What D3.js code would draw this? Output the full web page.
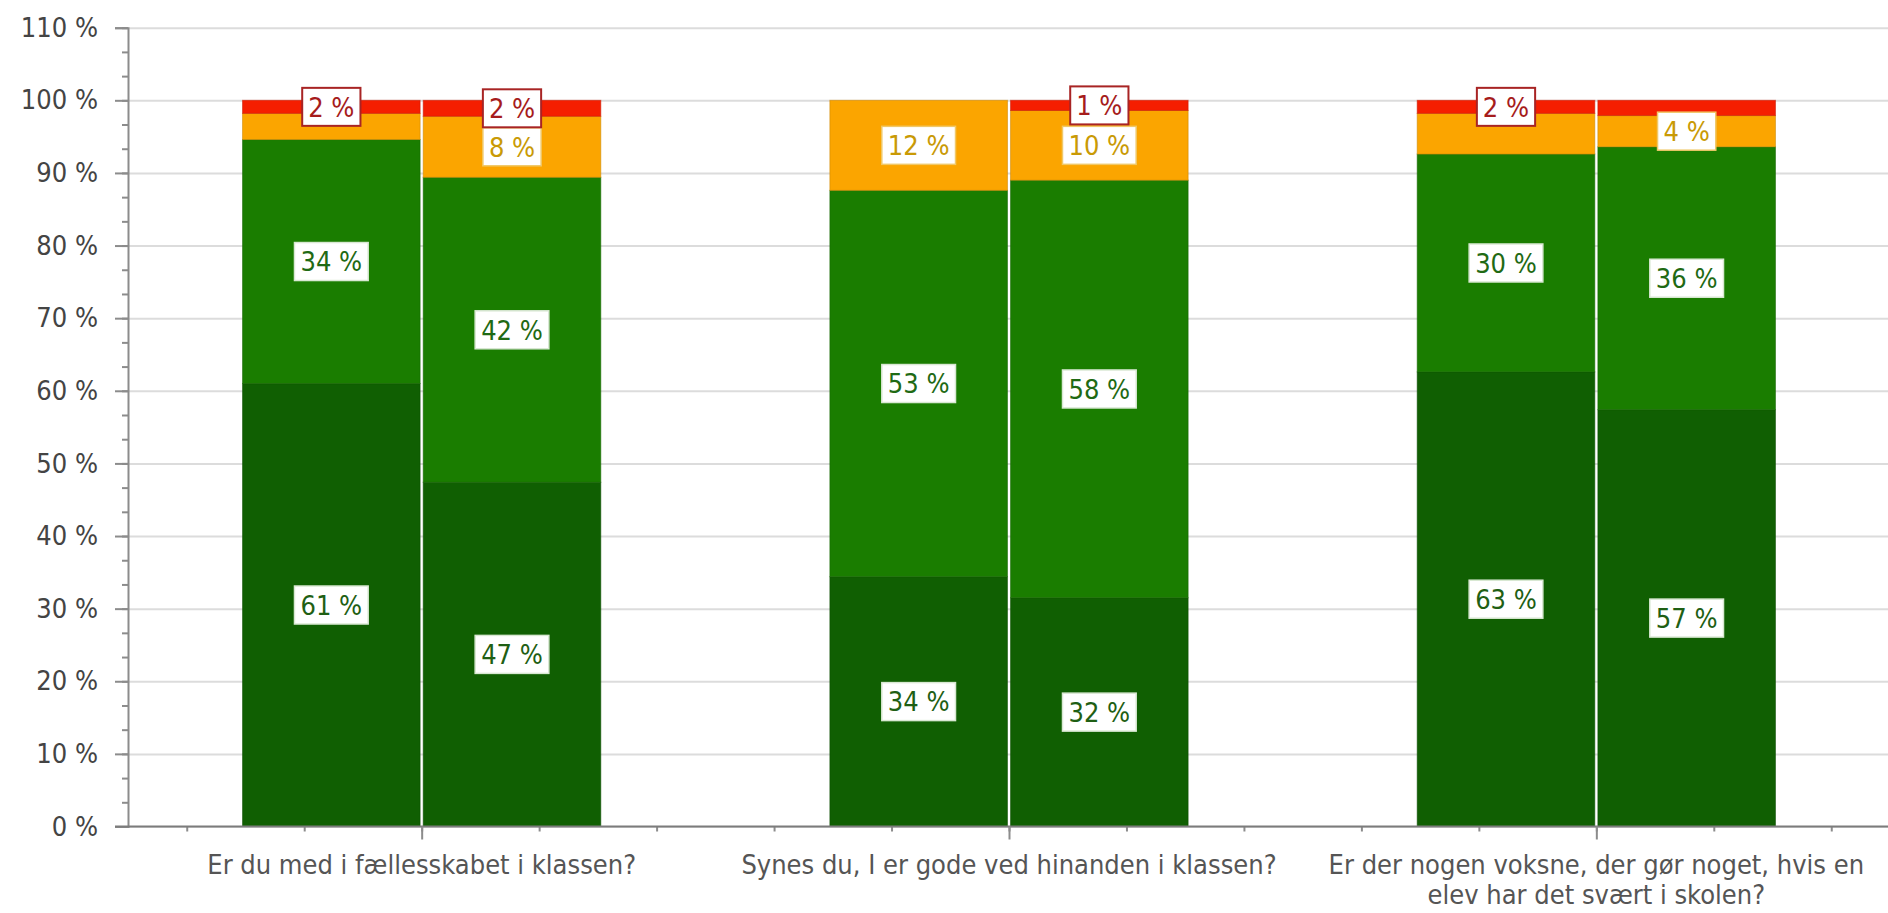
<!DOCTYPE html>
<html><head><meta charset="utf-8">
<script src="https://cdn.jsdelivr.net/npm/d3@7"></script>
<style>
html,body{margin:0;padding:0;background:#fff;overflow:hidden;}
svg{display:block;}
text{font-family:"DejaVu Sans Condensed","DejaVu Sans",sans-serif;font-stretch:condensed;}
</style></head><body>
<svg id="chart" width="1888" height="913"></svg>
<script>
// ---- data ----
const categories = [
  "Er du med i fællesskabet i klassen?",
  "Synes du, I er gode ved hinanden i klassen?",
  "Er der nogen voksne, der gør noget, hvis en elev har det svært i skolen?"
];
const barKeys = ["A", "B"];
const answerKeys = ["darkGreen", "green", "orange", "red"];
// bar A (left bar of each pair)
const darkGreenA = [61.0, 34.4, 62.6];
const greenA     = [33.6, 53.2, 30.0];
const orangeA    = [3.6, 12.4, 5.6];
const redA       = [1.8, 0.0, 1.8];
// bar B (right bar of each pair)
const darkGreenB = [47.4, 31.5, 57.4];
const greenB     = [42.0, 57.5, 36.2];
const orangeB    = [8.4, 9.6, 4.3];
const redB       = [2.2, 1.4, 2.1];
// labels not displayed in the original (category-bar-answer)
const hiddenLabels = ["0-A-orange", "2-A-orange", "2-B-red"];
const yTicks = [0, 10, 20, 30, 40, 50, 60, 70, 80, 90, 100, 110];

const values = {
  A: { darkGreen: darkGreenA, green: greenA, orange: orangeA, red: redA },
  B: { darkGreen: darkGreenB, green: greenB, orange: orangeB, red: redB }
};

// ---- styles ----
const fill = { darkGreen: "#105f02", green: "#1a7d00", orange: "#fba500", red: "#f51e00" };
const labelText = { darkGreen: "#1f5f14", green: "#1f6a14", orange: "#c99a05", red: "#a61c1c" };
const labelBorder = { darkGreen: "#d9e8d3", green: "#d9e8d3", orange: "#f0c868", red: "#a82424" };

const svg = d3.select("#chart");
const mLeft = 128, mRight = 1890, mTop = 27.7, mBottom = 826.5;
const fontSize = 27;

const y = d3.scaleLinear().domain([0, 110]).range([mBottom, mTop]);
const x0 = d3.scaleBand().domain(d3.range(categories.length))
  .range([mLeft, mRight]).paddingInner(0.39).paddingOuter(0.195);
const x1 = d3.scaleBand().domain(barKeys).range([0, x0.bandwidth()]).paddingInner(0.017);
const xIdx = d3.scaleLinear().domain([0, categories.length]).range([mLeft, mRight]);

// gridlines
svg.append("g").attr("transform", `translate(${mLeft},0)`)
  .call(d3.axisLeft(y).tickValues(yTicks).tickSize(-(mRight - mLeft)).tickFormat(""))
  .call(g => g.select(".domain").remove())
  .call(g => g.selectAll("line").attr("stroke", "#dcdcdc").attr("stroke-width", 2));

// bars
const stacks = [];
categories.forEach((c, i) => {
  barKeys.forEach(b => {
    let acc = 0;
    answerKeys.forEach(a => {
      const v = values[b][a][i];
      stacks.push({ i, b, a, v, y0: acc, y1: acc + v });
      acc += v;
    });
  });
});
svg.append("g").selectAll("rect").data(stacks.filter(d => d.v > 0)).join("rect")
  .attr("x", d => x0(d.i) + x1(d.b))
  .attr("width", x1.bandwidth())
  .attr("y", d => y(d.y1))
  .attr("height", d => y(d.y0) - y(d.y1))
  .attr("fill", d => fill[d.a])
  .attr("stroke", d => d3.color(fill[d.a]).darker(0.6))
  .attr("stroke-opacity", 0.55)
  .attr("stroke-width", 1);

// y axis
const yAxisG = svg.append("g").attr("transform", `translate(${mLeft},0)`);
yAxisG.append("g")
  .call(d3.axisLeft(y).tickValues(d3.range(0, 110.01, 10 / 3)).tickSize(6).tickFormat(""))
  .call(g => g.select(".domain").remove())
  .call(g => g.selectAll("line").attr("stroke", "#8c8c8c").attr("stroke-width", 2));
yAxisG.append("g")
  .call(d3.axisLeft(y).tickValues(yTicks).tickSize(13).tickPadding(17).tickFormat(d => d + " %"))
  .call(g => g.select(".domain").attr("stroke", "#8c8c8c").attr("stroke-width", 2))
  .call(g => g.selectAll("line").attr("stroke", "#8c8c8c").attr("stroke-width", 2))
  .call(g => g.selectAll("text").attr("font-size", fontSize).attr("fill", "#444")
    .style("font-family", '"DejaVu Sans Condensed","DejaVu Sans",sans-serif'));

// x axis
const xAxisG = svg.append("g").attr("transform", `translate(0,${mBottom})`);
xAxisG.append("g")
  .call(d3.axisBottom(xIdx).tickValues(d3.range(0.1, categories.length, 0.2)).tickSize(5).tickFormat(""))
  .call(g => g.select(".domain").remove())
  .call(g => g.selectAll("line").attr("stroke", "#8c8c8c").attr("stroke-width", 2));
xAxisG.append("g")
  .call(d3.axisBottom(xIdx).tickValues(d3.range(categories.length).map(i => i + 0.5)).tickSize(13).tickFormat(""))
  .call(g => g.select(".domain").attr("stroke", "#7c7c7c").attr("stroke-width", 2).attr("d", `M${mLeft - 13},0H${mRight}`))
  .call(g => g.selectAll("line").attr("stroke", "#8c8c8c").attr("stroke-width", 2));

// category labels (wrapped)
const maxW = x0.step() - 20;
categories.forEach((c, i) => {
  const cx = x0(i) + x0.bandwidth() / 2;
  const t = svg.append("text")
    .attr("x", cx)
    .attr("y", 874)
    .attr("text-anchor", "middle")
    .attr("font-size", fontSize)
    .attr("fill", "#555");
  const words = c.split(" ");
  let line = [];
  let ts = t.append("tspan").attr("x", cx).attr("dy", 0);
  words.forEach(w => {
    line.push(w);
    ts.text(line.join(" "));
    if (ts.node().getComputedTextLength() > maxW && line.length > 1) {
      line.pop();
      ts.text(line.join(" "));
      line = [w];
      ts = t.append("tspan").attr("x", cx).attr("dy", 30).text(w);
    }
  });
});

// data labels
const lab = svg.append("g").selectAll("g")
  .data(stacks.filter(d => d.v > 0 && !hiddenLabels.includes(`${d.i}-${d.b}-${d.a}`)))
  .join("g")
  .attr("transform", d => `translate(${x0(d.i) + x1(d.b) + x1.bandwidth() / 2},${y((d.y0 + d.y1) / 2)})`);
const boxes = lab.append("rect");
const texts = lab.append("text")
  .attr("text-anchor", "middle")
  .attr("dy", "0.36em")
  .attr("font-size", fontSize)
  .attr("fill", d => labelText[d.a])
  .text(d => Math.round(d.v) + " %");
texts.each(function (d) { d.tw = this.getComputedTextLength(); });
boxes
  .attr("x", d => -(d.tw / 2 + 6))
  .attr("y", -19)
  .attr("width", d => d.tw + 12)
  .attr("height", 38)
  .attr("fill", "#fff")
  .attr("stroke", d => labelBorder[d.a])
  .attr("stroke-width", d => d.a === "red" ? 2 : 1.5);
</script>
</body></html>
